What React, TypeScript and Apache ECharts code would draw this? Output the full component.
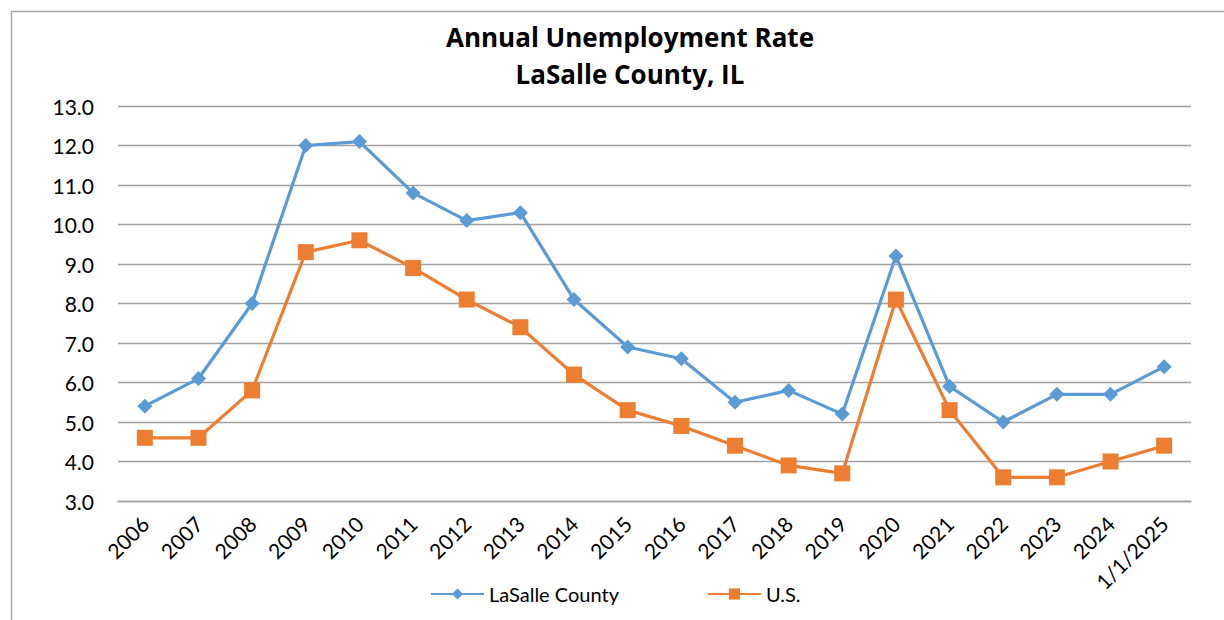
import React, { useEffect, useRef } from "react";
import * as echarts from "echarts";

const categories = ["2006","2007","2008","2009","2010","2011","2012","2013","2014","2015","2016","2017","2018","2019","2020","2021","2022","2023","2024","1/1/2025"];
const lasalle = [5.4, 6.1, 8.0, 12.0, 12.1, 10.8, 10.1, 10.3, 8.1, 6.9, 6.6, 5.5, 5.8, 5.2, 9.2, 5.9, 5.0, 5.7, 5.7, 6.4];
const us = [4.6, 4.6, 5.8, 9.3, 9.6, 8.9, 8.1, 7.4, 6.2, 5.3, 4.9, 4.4, 3.9, 3.7, 8.1, 5.3, 3.6, 3.6, 4.0, 4.4];
const titleLines = ["Annual Unemployment Rate", "LaSalle County, IL"];
const seriesNames = ["LaSalle County", "U.S."];

const FONT = "Lato, 'Open Sans', sans-serif";
const TITLE_FONT = "'Open Sans', Lato, sans-serif";

export default function App() {
  const ref = useRef<HTMLDivElement>(null);
  useEffect(() => {
    if (!ref.current) return;
    const chart = echarts.init(ref.current, undefined, { renderer: "svg" });
    chart.setOption({
      animation: false,
      backgroundColor: "#ffffff",
      textStyle: { fontFamily: FONT },
      graphic: [
        {
          type: "rect",
          z: -10,
          shape: { x: 11.5, y: 11.5, width: 1400, height: 800 },
          style: { fill: "none", stroke: "#a8a8a8", lineWidth: 1.5 },
        },
        {
          type: "text",
          x: 630,
          y: 37,
          style: {
            text: titleLines[0],
            textAlign: "center",
            textVerticalAlign: "middle",
            font: `bold 26px ${TITLE_FONT}`,
            fill: "#000",
          },
        },
        {
          type: "text",
          x: 630,
          y: 74,
          style: {
            text: titleLines[1],
            textAlign: "center",
            textVerticalAlign: "middle",
            font: `bold 26px ${TITLE_FONT}`,
            fill: "#000",
          },
        },
      ],
      grid: { left: 118, right: 33, top: 106, bottom: 119, containLabel: false },
      legend: {
        left: 430,
        top: 584,
        padding: 0,
        itemWidth: 53,
        itemHeight: 14,
        itemGap: 88,
        textStyle: { fontSize: 20, color: "#000", fontFamily: FONT },
        data: seriesNames,
      },
      xAxis: {
        type: "category",
        data: categories,
        boundaryGap: true,
        axisLine: { show: true, lineStyle: { color: "#a0a0a0", width: 1.3 } },
        axisTick: { show: false },
        axisLabel: { rotate: 45, color: "#000", fontSize: 21, margin: 19, interval: 0, fontFamily: FONT },
      },
      yAxis: {
        type: "value",
        min: 3,
        max: 13,
        interval: 1,
        axisLine: { show: false },
        axisTick: { show: false },
        splitLine: { lineStyle: { color: "#a0a0a0", width: 1.3 } },
        axisLabel: {
          color: "#000",
          fontSize: 21,
          margin: 24,
          fontFamily: FONT,
          formatter: (v: number) => v.toFixed(1),
        },
      },
      series: [
        {
          name: seriesNames[0],
          type: "line",
          data: lasalle,
          symbol: "diamond",
          symbolSize: 15,
          itemStyle: { color: "#5B9BD5" },
          lineStyle: { color: "#5B9BD5", width: 3.2 },
        },
        {
          name: seriesNames[1],
          type: "line",
          data: us,
          symbol: "rect",
          symbolSize: 16,
          itemStyle: { color: "#ED7D31" },
          lineStyle: { color: "#ED7D31", width: 3.2 },
        },
      ],
    });
    return () => chart.dispose();
  }, []);
  return (
    <div
      ref={ref}
      style={{ position: "fixed", left: 0, top: 0, width: 1224, height: 620 }}
    />
  );
}
